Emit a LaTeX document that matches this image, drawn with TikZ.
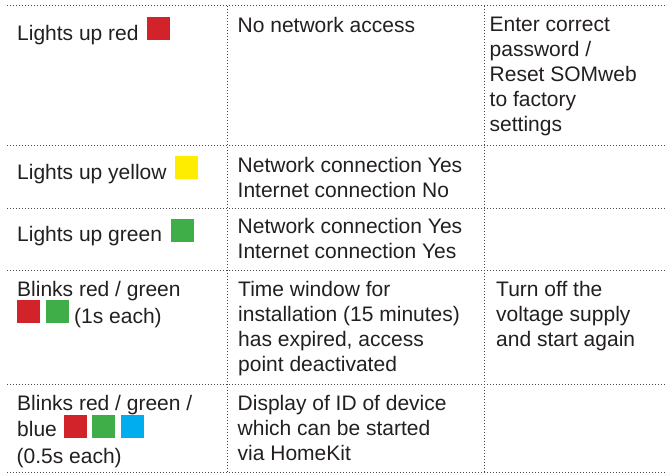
\documentclass[tikz,border=0pt]{standalone}
\usepackage{fontspec}
\setmainfont{Liberation Sans}
\definecolor{txt}{HTML}{231F20}
\definecolor{grid}{HTML}{4A4A4A}
\definecolor{ledred}{HTML}{D2232A}
\definecolor{ledyellow}{HTML}{FFED00}
\definecolor{ledgreen}{HTML}{3FAE49}
\definecolor{ledblue}{HTML}{00AEEF}
\tikzset{
  gridline/.style={draw=grid, line width=1pt, dash pattern=on 1pt off 2pt},
  cell/.style={anchor=base west, inner sep=0pt, align=left, text=txt,
    font=\fontsize{21}{25}\selectfont},
  led/.style={anchor=south west, inner sep=0pt, minimum width=23pt, minimum height=23pt, draw=none},
}
\begin{document}
\begin{tikzpicture}[x=1pt,y=-1pt]
\useasboundingbox (0,0) rectangle (665,474);
% grid
\foreach \yy in {5.7,145.6,208.3,270.7,384.3,472.3}
  \draw[gridline] (7,\yy) -- (665,\yy);
\foreach \xx in {227.5,484.7}
  \draw[gridline] (\xx,5.7) -- (\xx,472.3);
% row 1 (multi-line nodes are placed by the baseline of their last line)
\node[cell] (r1a) at (17,40) {Lights up red};
\node[led, fill=ledred] (r1s) at (147,40) {};
\node[cell] (r1b) at (237.5,32.3) {No network access};
\node[cell] (r1c) at (489.5,131.7) {Enter correct\\password /\\Reset SOMweb\\to factory\\settings};
% row 2
\node[cell] (r2a) at (17,179) {Lights up yellow};
\node[led, fill=ledyellow] (r2s) at (175,179) {};
\node[cell] (r2b) at (237.5,197) {Network connection Yes\\Internet connection No};
% row 3
\node[cell] (r3a) at (17,241.7) {Lights up green};
\node[led, fill=ledgreen] (r3s) at (171,241.7) {};
\node[cell] (r3b) at (237.5,258.7) {Network connection Yes\\Internet connection Yes};
% row 4
\node[cell] (r4a) at (17,296.7) {Blinks red / green};
\node[led, fill=ledred] (r4s1) at (17,323.3) {};
\node[led, fill=ledgreen] (r4s2) at (46,323.3) {};
\node[cell] (r4a2) at (74,323) {(1s each)};
\node[cell] (r4b) at (238,371.7) {Time window for\\installation (15 minutes)\\has expired, access\\point deactivated};
\node[cell] (r4c) at (496,346.9) {Turn off the\\voltage supply\\and start again};
% row 5
\node[cell] (r5a) at (17,410) {Blinks red / green /};
\node[cell] (r5a2) at (17,436.7) {blue};
\node[led, fill=ledred] (r5s1) at (64,437.7) {};
\node[led, fill=ledgreen] (r5s2) at (92,437.7) {};
\node[led, fill=ledblue] (r5s3) at (121,437.7) {};
\node[cell] (r5a3) at (16.5,463.3) {(0.5s each)};
\node[cell] (r5b) at (237.5,460) {Display of ID of device\\which can be started\\via HomeKit};
\end{tikzpicture}
\end{document}
